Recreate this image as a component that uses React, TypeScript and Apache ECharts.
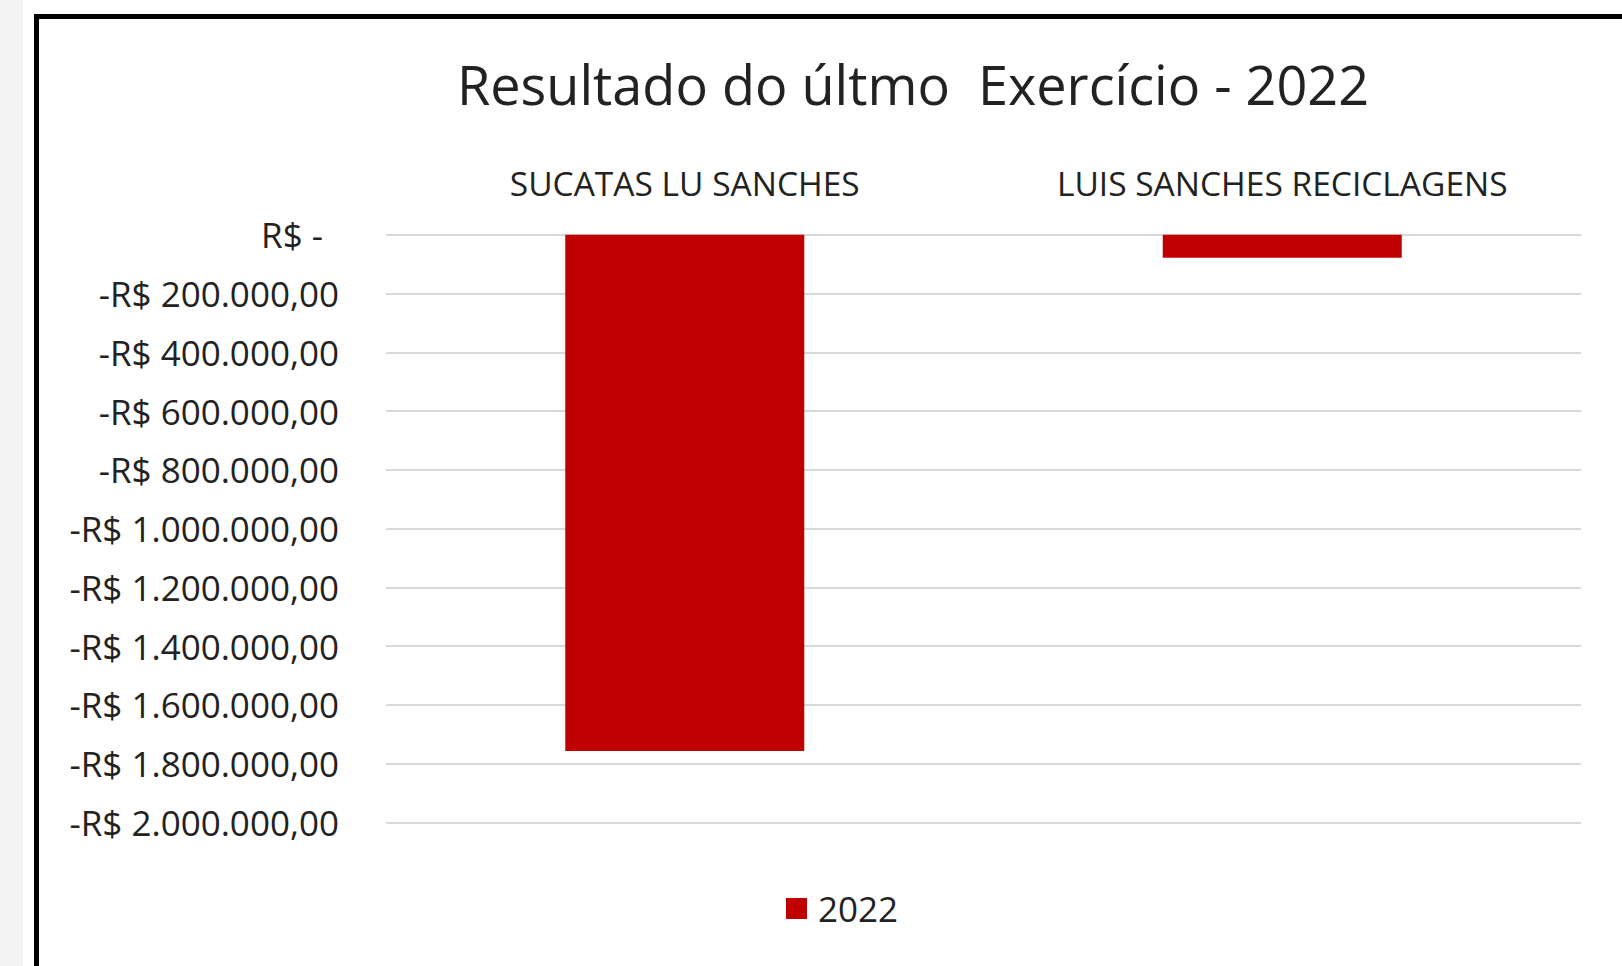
import React, { useEffect, useRef } from "react";
import * as echarts from "echarts";

const categories = ["SUCATAS LU SANCHES", "LUIS SANCHES RECICLAGENS"];
const seriesName = "2022";
const values2022 = [-1757000, -78000];
const yTicks = { min: -2000000, max: 0, interval: 200000 };
const titleText = "Resultado do últmo  Exercício - 2022";

function fmtBRL(v: number): string {
  if (v === 0) return "{z|R$ -}";
  const abs = Math.abs(v);
  const int = Math.floor(abs).toString().replace(/\B(?=(\d{3})+(?!\d))/g, ".");
  return (v < 0 ? "-" : "") + "R$ " + int + ",00";
}

const FONT = "Open Sans";
const TXT = "#222222";

export default function App() {
  const ref = useRef<HTMLDivElement>(null);
  useEffect(() => {
    if (!ref.current) return;
    const chart = echarts.init(ref.current, undefined, { renderer: "svg" });
    chart.setOption({
      animation: false,
      backgroundColor: "#ffffff",
      graphic: [
        { type: "rect", left: 0, top: 0, shape: { width: 23, height: 966 }, style: { fill: "#f3f3f3" }, silent: true },
        { type: "rect", x: 0, y: 0, shape: { x: 36.5, y: 16.5, width: 2000, height: 2000 }, style: { fill: "none", stroke: "#000", lineWidth: 5 }, silent: true },
      ],
      title: {
        text: titleText,
        left: 908,
        top: 52,
        textAlign: "center",
        textStyle: { fontFamily: FONT, fontSize: 54, fontWeight: "normal", color: TXT },
      },
      legend: {
        data: [seriesName],
        left: 781,
        top: 886,
        itemWidth: 21,
        itemHeight: 21,
        itemGap: 10,
        icon: "rect",
        textStyle: { fontFamily: FONT, fontSize: 35, color: TXT, padding: [0, 0, 0, 6] },
      },
      grid: { left: 386, right: 41, top: 234.8, bottom: 143.6 },
      xAxis: {
        type: "category",
        data: categories,
        position: "top",
        axisLine: { show: false },
        axisTick: { show: false },
        axisLabel: { fontFamily: FONT, fontSize: 33.5, color: TXT, margin: 35 },
      },
      yAxis: {
        type: "value",
        min: yTicks.min,
        max: yTicks.max,
        interval: yTicks.interval,
        axisLine: { show: false },
        axisTick: { show: false },
        splitLine: { lineStyle: { color: "#d9d9d9", width: 2 } },
        axisLabel: {
          fontFamily: FONT,
          fontSize: 35,
          color: TXT,
          margin: 47,
          formatter: (v: number) => fmtBRL(v),
          rich: { z: { fontFamily: FONT, fontSize: 35, color: TXT, padding: [0, 16, 0, 0] } },
        },
      },
      series: [
        {
          name: seriesName,
          type: "bar",
          data: values2022,
          barWidth: "40%",
          itemStyle: { color: "#c00000" },
        },
      ],
    });
    return () => chart.dispose();
  }, []);
  return (
    <div
      ref={ref}
      style={{ position: "fixed", left: 0, top: 0, width: 1622, height: 966 }}
    />
  );
}
